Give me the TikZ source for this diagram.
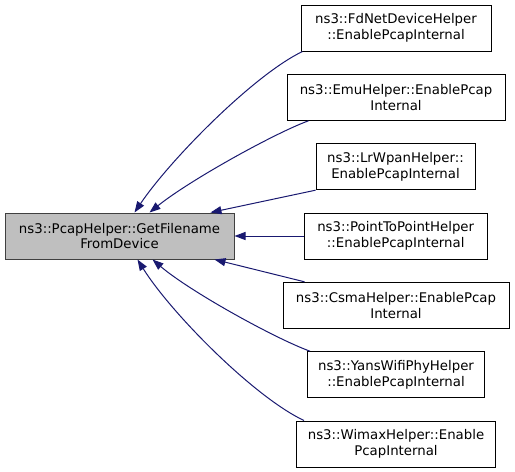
\documentclass[tikz,border=0pt]{standalone}
\usepackage{fontspec}
\setmainfont{DejaVu Sans}
\usetikzlibrary{arrows.meta}
\definecolor{edgeblue}{HTML}{191970}
\definecolor{leftfill}{HTML}{BFBFBF}
\tikzset{
  box/.style={draw=black, line width=1pt, fill=white, minimum height=46pt, inner sep=0pt, align=center,
    font=\fontsize{13.3}{15.5}\selectfont},
  mainbox/.style={box, fill=leftfill, draw=black!75},
  edge/.style={draw=edgeblue, line width=1pt, -{Triangle[length=11pt,width=8pt]}}
}
\begin{document}
\begin{tikzpicture}[x=1pt,y=-1pt]
\useasboundingbox (0,0) rectangle (515,472);
\node[mainbox, minimum width=229pt] (L) at (119.5,236) {ns3::PcapHelper::GetFilename\\FromDevice};
\node[box, minimum width=190pt] (n1) at (396,28) {ns3::FdNetDeviceHelper\\::EnablePcapInternal};
\node[box, minimum width=218pt] (n2) at (396,97.3) {ns3::EmuHelper::EnablePcap\\Internal};
\node[box, minimum width=159pt] (n3) at (395.5,166.7) {ns3::LrWpanHelper::\\EnablePcapInternal};
\node[box, minimum width=183pt] (n4) at (395.7,236) {ns3::PointToPointHelper\\::EnablePcapInternal};
\node[box, minimum width=226pt] (n5) at (396,305.3) {ns3::CsmaHelper::EnablePcap\\Internal};
\node[box, minimum width=177pt] (n6) at (396,374.7) {ns3::YansWifiPhyHelper\\::EnablePcapInternal};
\node[box, minimum width=199pt] (n7) at (396,444) {ns3::WimaxHelper::Enable\\PcapInternal};

\draw[edge] ([xshift=2pt]n1.south west) .. controls (254,74.75) and (170.75,159) .. ([xshift=130pt]L.north west);
\draw[edge] ([xshift=22pt]n2.south west) .. controls (275,133) and (190,180) .. ([xshift=145pt]L.north west);
\draw[edge] (n3.south west) -- ([xshift=206pt]L.north west);
\draw[edge] (n4.west) -- (L.east);
\draw[edge] ([xshift=22pt]n5.north west) -- ([xshift=210pt]L.south west);
\draw[edge] ([xshift=3pt]n6.north west) .. controls (275,338.5) and (190,291.5) .. ([xshift=148pt]L.south west);
\draw[edge] ([xshift=8pt]n7.north west) .. controls (254,397) and (171,313) .. ([xshift=133pt]L.south west);
\end{tikzpicture}
\end{document}
